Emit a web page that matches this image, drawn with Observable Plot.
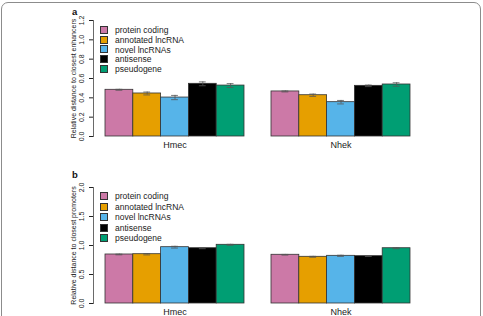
<!DOCTYPE html>
<html>
<head>
<meta charset="utf-8">
<script src="https://cdn.jsdelivr.net/npm/d3@7"></script>
<script src="https://cdn.jsdelivr.net/npm/@observablehq/plot@0.6"></script>
<style>
  body { margin: 0; background: #fff; font-family: "Liberation Sans", Arial, sans-serif; }
  #fig { position: relative; width: 483px; height: 316px; overflow: hidden; background: #fff; }
  .frame { position: absolute; left: 1px; top: 2px; width: 480px; height: 340px;
           border: 1.5px solid #8c8c8c; border-radius: 7px; box-sizing: border-box; pointer-events: none; }
  .panel { position: absolute; left: 0; width: 483px; height: 158px; }
  .panel svg { display: block; }
  .tag { position: absolute; font-weight: bold; font-size: 9.5px; line-height: 1; color: #111; }
  .legend { position: absolute; left: 100px; font-size: 8.5px; color: #222; }
  .legend .row { display: flex; align-items: center; white-space: nowrap; }
  .legend .sw { width: 6px; height: 6px; border: 0.8px solid #333; margin-right: 7px; flex: none; }
</style>
</head>
<body>
<div id="fig"></div>
<script>
// Sample groups and transcript classes
const groups = ["Hmec", "Nhek"];
const types = ["protein coding", "annotated lncRNA", "novel lncRNAs", "antisense", "pseudogene"];
const colors = ["#CC79A7", "#E69F00", "#56B4E9", "#000000", "#009E73"];

// (a) relative distance to closest enhancers: mean and error per class
const enhHmec = [0.483, 0.445, 0.403, 0.545, 0.527];
const enhHmecErr = [0.005, 0.015, 0.022, 0.020, 0.020];
const enhNhek = [0.466, 0.427, 0.355, 0.524, 0.538];
const enhNhekErr = [0.005, 0.012, 0.018, 0.008, 0.018];

// (b) relative distance to closest promoters
const proHmec = [0.845, 0.850, 0.971, 0.953, 1.012];
const proHmecErr = [0.006, 0.012, 0.015, 0.008, 0.008];
const proNhek = [0.840, 0.805, 0.822, 0.816, 0.953];
const proNhekErr = [0.006, 0.008, 0.010, 0.006, 0.008];

// axis ticks
const enhTicks = [0, 0.2, 0.4, 0.6, 0.8, 1.0, 1.2];
const proTicks = [0, 0.5, 1.0, 1.5, 2.0];

function table(perGroup) {
  return groups.flatMap((g, gi) =>
    types.map((t, i) => ({group: g, type: t, value: perGroup[gi][0][i], err: perGroup[gi][1][i]})));
}

const fmt = d3.format(".1f");
const errStyle = {fx: "group", x: "type", stroke: "#555", strokeWidth: 0.8};

function chart({rows, ticks, max, title, marginTop, marginBottom}) {
  return Plot.plot({
    width: 483,
    height: 158,
    marginLeft: 105,
    marginRight: 73,
    marginTop,
    marginBottom,
    style: {fontFamily: "'Liberation Sans', Arial, sans-serif", fontSize: "7px", color: "#222", background: "transparent"},
    fx: {domain: groups, paddingInner: 27 / 166, paddingOuter: 0, round: false, label: null},
    x: {domain: types, padding: 0, round: false, axis: null},
    y: {domain: [0, max]},
    color: {domain: types, range: colors},
    marks: [
      Plot.axisFx({anchor: "bottom", tickSize: 0, tickPadding: 5, fontSize: 9, label: null}),
      Plot.axisY({
        ticks, tickFormat: fmt, tickRotate: -90, tickSize: 4, tickPadding: 5.5, dx: -12,
        label: title, labelAnchor: "center", labelOffset: 34.5, labelArrow: false, fontSize: 7
      }),
      // axis line along the value range, on the first group only
      Plot.frame({anchor: "left", facetAnchor: "left", dx: -12, stroke: "#444", strokeWidth: 0.8}),
      Plot.barY(rows, {fx: "group", x: "type", y: "value", fill: "type", stroke: "#333", strokeWidth: 0.8}),
      Plot.ruleX(rows, {...errStyle, y1: d => d.value - d.err, y2: d => d.value + d.err}),
      Plot.tickY(rows, {...errStyle, y: d => d.value - d.err, insetLeft: 10.5, insetRight: 10.5}),
      Plot.tickY(rows, {...errStyle, y: d => d.value + d.err, insetLeft: 10.5, insetRight: 10.5})
    ]
  });
}

function addPanel({top, tag, rows, ticks, max, title, marginTop, marginBottom, legendTop, legendStep}) {
  const panel = d3.select("#fig").append("div").attr("class", "panel").style("top", top + "px");
  panel.node().append(chart({rows, ticks, max, title, marginTop, marginBottom}));
  panel.append("div").attr("class", "tag").style("left", "72px").style("top", tag.top + "px").text(tag.text);
  const legend = panel.append("div").attr("class", "legend").style("top", legendTop + "px");
  legend.selectAll(".row").data(types).join("div")
    .attr("class", "row")
    .style("height", legendStep + "px")
    .call(r => r.append("span").attr("class", "sw").style("background", (d, i) => colors[i]))
    .call(r => r.append("span").text(d => d));
}

addPanel({
  top: 0, tag: {text: "a", top: 7},
  rows: table([[enhHmec, enhHmecErr], [enhNhek, enhNhekErr]]),
  ticks: enhTicks, max: 1.2, title: "Relative distance to closest enhancers",
  marginTop: 20, marginBottom: 22, legendTop: 25, legendStep: 9.8
});
addPanel({
  top: 158, tag: {text: "b", top: 12},
  rows: table([[proHmec, proHmecErr], [proNhek, proNhekErr]]),
  ticks: proTicks, max: 2.0, title: "Relative distance to closest promoters",
  marginTop: 29, marginBottom: 13, legendTop: 33, legendStep: 10.5
});

d3.select("#fig").append("div").attr("class", "frame");
</script>
</body>
</html>
